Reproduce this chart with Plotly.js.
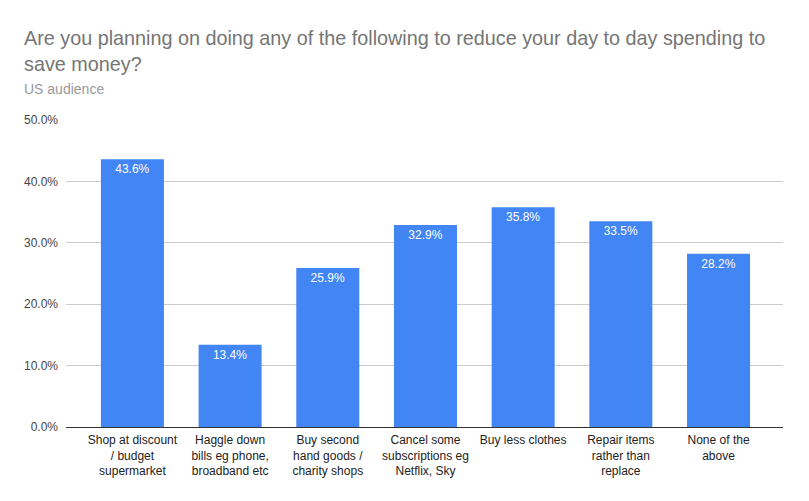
<!DOCTYPE html>
<html>
<head>
<meta charset="utf-8">
<script src="https://cdn.plot.ly/plotly-3.0.1.min.js"></script>
<style>html,body{margin:0;padding:0;background:#fff}#chart{width:809px;height:501px}</style>
</head>
<body>
<div id="chart"></div>
<script>
const categories = [
  "Shop at discount<br>/ budget<br>supermarket",
  "Haggle down<br>bills eg phone,<br>broadband etc",
  "Buy second<br>hand goods /<br>charity shops",
  "Cancel some<br>subscriptions eg<br>Netflix, Sky",
  "Buy less clothes",
  "Repair items<br>rather than<br>replace",
  "None of the<br>above"
];
const values = [43.6, 13.4, 25.9, 32.9, 35.8, 33.5, 28.2];
const tickVals = [0, 10, 20, 30, 40, 50];
const tickText = ["0.0%", "10.0%", "20.0%", "30.0%", "40.0%", "50.0%"];
const titleText = "Are you planning on doing any of the following to reduce your day to day spending to<br>save money?";
const subtitleText = "US audience";

const FONT = "Liberation Sans, Arial, sans-serif";
const xIdx = categories.map((_, i) => i);

const trace = {
  type: "bar",
  x: xIdx,
  y: values,
  width: 0.645,
  marker: {color: "#4285F4"},
  text: values.map(v => v.toFixed(1) + "%"),
  textposition: "inside",
  insidetextanchor: "end",
  textangle: 0,
  textfont: {family: FONT, size: 12, color: "#ffffff"},
  hoverinfo: "none",
  cliponaxis: false
};

const layout = {
  width: 809, height: 501,
  margin: {l: 66, r: 26, t: 120, b: 74, pad: 0},
  paper_bgcolor: "#ffffff",
  plot_bgcolor: "#ffffff",
  showlegend: false,
  font: {family: FONT, size: 12, color: "#444444"},
  title: {
    text: titleText,
    font: {family: FONT, size: 19.8, color: "#757575"},
    xref: "container", yref: "container",
    x: 24/809, xanchor: "left",
    y: 1 - 45/501, yanchor: "top"
  },
  annotations: [{
    text: subtitleText,
    xref: "paper", yref: "paper",
    x: -44/717, y: 1 + 21/307,
    xanchor: "left", yanchor: "bottom",
    showarrow: false,
    font: {family: FONT, size: 14, color: "#999999"}
  }],
  xaxis: {
    range: [-0.68, 6.66],
    tickmode: "array",
    tickvals: xIdx,
    ticktext: categories,
    ticks: "",
    showgrid: false,
    zeroline: false,
    showline: false,
    ticklabelstandoff: 4,
    tickfont: {family: FONT, size: 12, color: "#222222"},
    fixedrange: true
  },
  yaxis: {
    range: [0, 50],
    tickmode: "array",
    tickvals: tickVals,
    ticktext: tickText,
    showgrid: true,
    gridcolor: "#cccccc",
    gridwidth: 1,
    zeroline: true,
    zerolinecolor: "#333333",
    zerolinewidth: 1,
    showline: false,
    ticks: "",
    ticklabelstandoff: 7,
    tickfont: {family: FONT, size: 12, color: "#444444"},
    fixedrange: true
  }
};

Plotly.newPlot("chart", [trace], layout, {displayModeBar: false, staticPlot: true});
</script>
</body>
</html>
